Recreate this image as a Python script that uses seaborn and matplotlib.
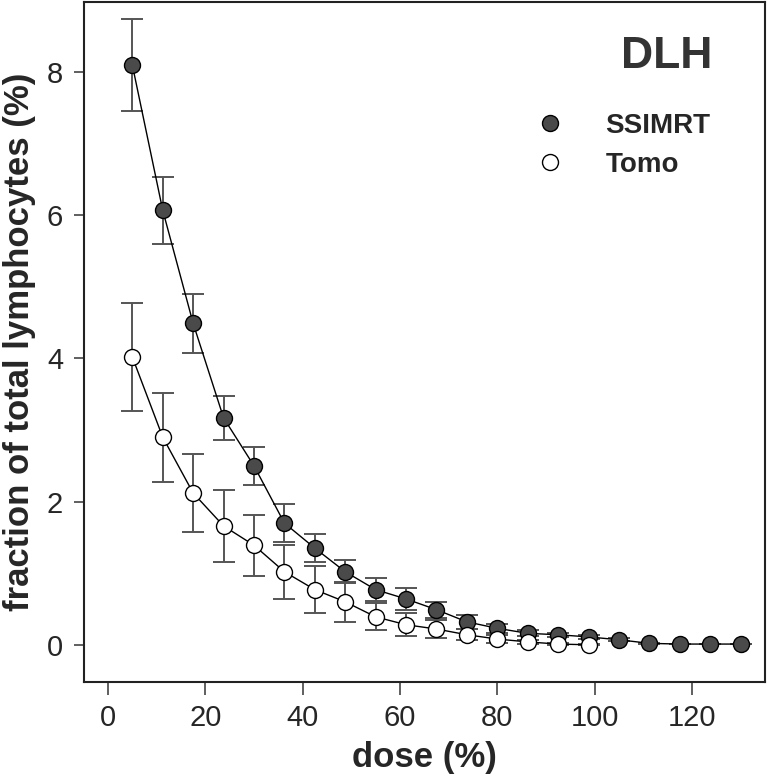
import numpy as np
import pandas as pd
import matplotlib
matplotlib.use("Agg")
import matplotlib.pyplot as plt
from matplotlib.lines import Line2D
import seaborn as sns

# ---- data ----
ssimrt_dose = [5, 11.25, 17.5, 23.75, 30, 36.25, 42.5, 48.75, 55, 61.25, 67.5,
               73.75, 80, 86.25, 92.5, 98.75, 105, 111.25, 117.5, 123.75, 130]
ssimrt_mean = [8.10, 6.07, 4.49, 3.17, 2.50, 1.70, 1.35, 1.02, 0.77, 0.64, 0.49,
               0.32, 0.23, 0.16, 0.14, 0.11, 0.07, 0.02, 0.01, 0.01, 0.01]
ssimrt_err = [0.64, 0.47, 0.41, 0.31, 0.27, 0.27, 0.20, 0.16, 0.16, 0.16, 0.11,
              0.10, 0.06, 0.04, 0.03, 0.03, 0.02, 0.01, 0.0, 0.0, 0.0]

tomo_dose = [5, 11.25, 17.5, 23.75, 30, 36.25, 42.5, 48.75, 55, 61.25, 67.5,
             73.75, 80, 86.25, 92.5, 98.75]
tomo_mean = [4.02, 2.90, 2.12, 1.66, 1.39, 1.02, 0.77, 0.60, 0.39, 0.28, 0.22,
             0.14, 0.08, 0.04, 0.01, 0.0]
tomo_err = [0.75, 0.62, 0.55, 0.50, 0.43, 0.38, 0.33, 0.28, 0.19, 0.16, 0.12,
            0.08, 0.05, 0.03, 0.02, 0.01]

series_names = ["SSIMRT", "Tomo"]
x_ticks = [0, 20, 40, 60, 80, 100, 120]
y_ticks = [0, 2, 4, 6, 8]
panel_title = "DLH"

df = pd.concat([
    pd.DataFrame({"dose": ssimrt_dose, "frac": ssimrt_mean, "err": ssimrt_err, "group": series_names[0]}),
    pd.DataFrame({"dose": tomo_dose, "frac": tomo_mean, "err": tomo_err, "group": series_names[1]}),
])

sns.set_style("ticks")
plt.rcParams["font.family"] = ["Liberation Sans", "DejaVu Sans"]

fig = plt.figure(figsize=(7.68, 7.80), dpi=100)
ax = fig.add_axes([84 / 768, 1 - 682 / 780, (765 - 84) / 768, (682 - 2) / 780])

face = {"SSIMRT": "#4a4a4a", "Tomo": "white"}
for name in series_names:
    d = df[df["group"] == name]
    ax.errorbar(d["dose"], d["frac"], yerr=d["err"], fmt="none", ecolor="#555555",
                elinewidth=1.4, capsize=8, capthick=1.4, zorder=1)
for name in series_names:
    d = df[df["group"] == name]
    sns.lineplot(data=d, x="dose", y="frac", ax=ax, color="black", linewidth=1.0,
                 marker="o", markersize=11.5, markerfacecolor=face[name],
                 markeredgecolor="black", markeredgewidth=1.0, zorder=3,
                 estimator=None, sort=False)

ax.set_xlim(-4.93, 135.0)
ax.set_ylim(-0.52, 8.98)
ax.set_xticks(x_ticks)
ax.set_yticks(y_ticks)
ax.tick_params(axis="both", labelsize=21, length=7, width=1.2, color="#444444",
               direction="out")
ax.tick_params(axis="x", pad=7, length=9)
ax.tick_params(axis="y", pad=8)
for s in ax.spines.values():
    s.set_visible(True)
    s.set_linewidth(1.5)
    s.set_color("#222222")

ax.set_xlabel("dose (%)", fontsize=25, fontweight="bold", labelpad=6)
ax.set_ylabel("fraction of total lymphocytes (%)", fontsize=25, fontweight="bold", labelpad=8)

handles = [
    Line2D([], [], linestyle="none", marker="o", markersize=11.5,
           markerfacecolor=face[n], markeredgecolor="black", markeredgewidth=1.0)
    for n in series_names
]
leg = ax.legend(handles, series_names, loc="upper left",
                bbox_to_anchor=(536 / 768, 1 - 113 / 780), bbox_transform=fig.transFigure,
                frameon=False, prop={"weight": "bold", "size": 20},
                handlelength=1.0, handletextpad=1.5, labelspacing=0.45,
                borderpad=0, borderaxespad=0)

fig.text(667 / 768, 1 - 56 / 780, panel_title, fontsize=32, fontweight="bold",
         color="#333333", ha="center", va="center")

fig.savefig("out.png", dpi=100)
